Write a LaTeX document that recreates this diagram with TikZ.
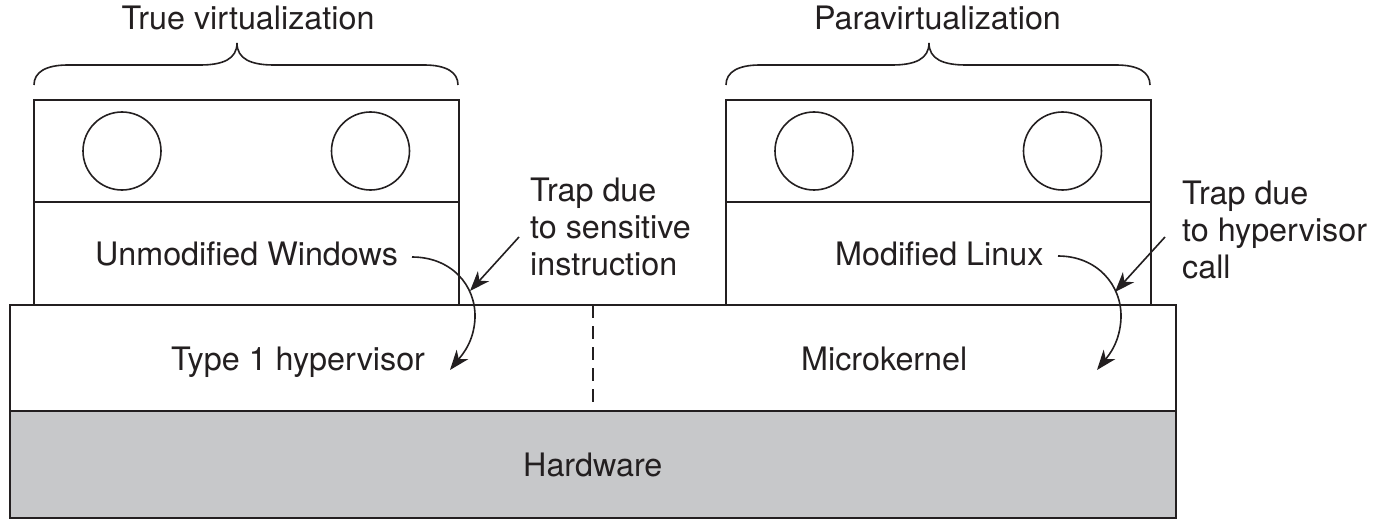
\documentclass[tikz,border=0pt]{standalone}
\usepackage{fontspec}
\setmainfont{TeX Gyre Heros}
\usetikzlibrary{arrows.meta}
\definecolor{ink}{HTML}{231F20}
\definecolor{hwgray}{HTML}{C7C8CA}
\tikzset{
  lbl/.style={inner sep=0pt, text=ink, font=\fontsize{32.3pt}{36.7pt}\selectfont},
  boxline/.style={draw=ink, line width=2pt},
  thin/.style={draw=ink, line width=1.6pt},
  traparrow/.style={draw=ink, line width=1.6pt, -{Stealth[length=20pt, width=15pt, inset=6pt]}},
}
\begin{document}
\begin{tikzpicture}[x=1pt, y=-1pt]
\useasboundingbox (0,0) rectangle (1377,532);
% hardware and hypervisor layers
\fill[hwgray] (9.5,411) rectangle (1176,517.5);
\draw[boxline] (9.5,305) rectangle (1176,517.5);
\draw[boxline] (9.5,411) -- (1176,411);
\draw[draw=ink, line width=1.6pt, dash pattern=on 13pt off 8pt] (592.7,305) -- (592.7,411);
% virtual machine boxes
\foreach \s in {0,692}{
  \draw[boxline] ({34+\s},305) -- ({34+\s},100) -- ({459+\s},100) -- ({459+\s},305);
  \draw[boxline] ({34+\s},202) -- ({459+\s},202);
  \draw[thin] ({122+\s},151) circle (39pt);
  \draw[thin] ({370.5+\s},151) circle (39pt);
  \draw[thin] ({34+\s},85) .. controls ({34+\s},72) and ({46+\s},65) .. ({68+\s},65)
     -- ({200+\s},65) .. controls ({223+\s},65) and ({237+\s},59) .. ({237+\s},43)
     .. controls ({237+\s},59) and ({251+\s},65) .. ({274+\s},65)
     -- ({424+\s},65) .. controls ({446+\s},65) and ({458+\s},72) .. ({458+\s},85);
}
% labels
\node[lbl, anchor=base] (tv) at (248,29.5) {True virtualization};
\node[lbl, anchor=base] (pv) at (937.5,30) {Paravirtualization};
\node[lbl, anchor=base west] (uw) at (95,265) {Unmodified Windows};
\node[lbl, anchor=base west] (ml) at (835,265) {Modified Linux};
\node[lbl, anchor=base west] (t1) at (171,370) {Type 1 hypervisor};
\node[lbl, anchor=base west] (mk) at (801,370) {Microkernel};
\node[lbl, anchor=base west] (hw) at (523,476) {Hardware};
\node[lbl, anchor=base west, align=left] (trapA) at (530,275) {Trap due\\to sensitive\\instruction};
\node[lbl, anchor=base west, align=left] (trapB) at (1182,278.3) {Trap due\\to hypervisor\\call};
% arrow end points
\coordinate (aS) at (412,257);
\coordinate (aE) at (450,370);
\coordinate (bS) at (1058,256);
\coordinate (bE) at (1097,370);
\coordinate (pA) at (519,237);
\coordinate (qA) at (470,291);
\coordinate (pB) at (1165,237);
\coordinate (qB) at (1115,292);
% arrows
\draw[traparrow] (aS) .. controls (451,257) and (476,285) .. (475,318) .. controls (474,342) and (462,355) .. (aE);
\draw[traparrow] (bS) .. controls (1097,256) and (1122,285) .. (1121,318) .. controls (1120,342) and (1109,355) .. (bE);
\draw[traparrow] (pA) -- (qA);
\draw[traparrow] (pB) -- (qB);
\end{tikzpicture}
\end{document}
